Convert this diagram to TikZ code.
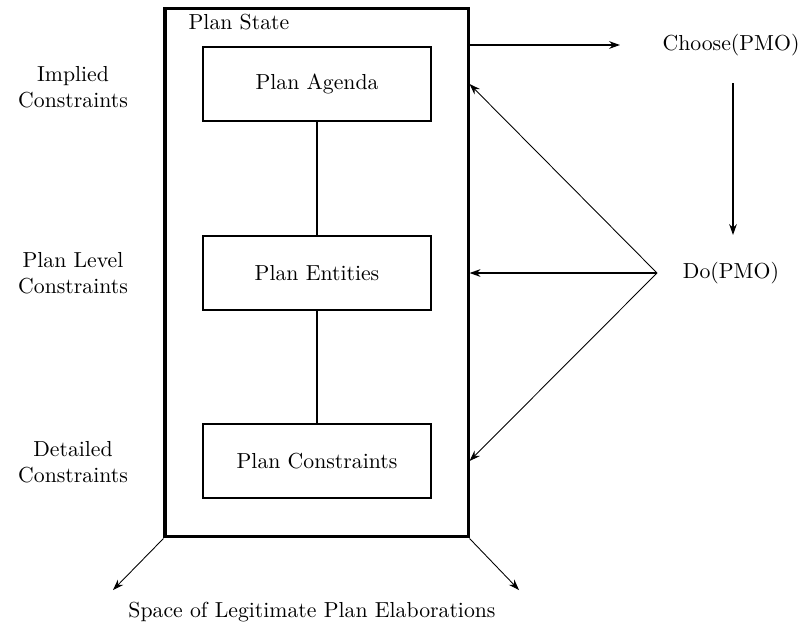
\documentclass[tikz,border=0pt]{standalone}
\usepackage{amsmath}
\usetikzlibrary{arrows.meta}
\usetikzlibrary{positioning}
\begin{document}
\begin{tikzpicture}[x=0.46pt, y=-0.46pt,
  part/.style={draw, line width=0.9pt, minimum width=105pt, minimum height=34pt, inner sep=0pt},
  sidetext/.style={align=center},
  fanline/.style={line width=0.4pt, -{Stealth[length=5pt, width=3.5pt]}},
  mainline/.style={line width=0.8pt, -{Stealth[length=5pt, width=3.5pt]}}]
\useasboundingbox (0,0) rectangle (804,626);
% plan state and its parts
\node[draw, line width=1.4pt, minimum width=139.4pt, minimum height=243.3pt, inner sep=0pt] (state) at (316.5,272.5) {};
\node[anchor=west] (statename) at (181,22) {Plan State};
\node[part] (agenda) at (317,84) {Plan Agenda};
\node[part] (entities) at (317,273) {Plan Entities};
\node[part] (pcons) at (317,461) {Plan Constraints};
\draw[line width=0.8pt] (agenda) -- (entities);
\draw[line width=0.8pt] (entities) -- (pcons);
% constraint levels
\node[sidetext] (implied) at (73,87) {Implied\\Constraints};
\node[sidetext] (levelc) at (73,273) {Plan Level\\Constraints};
\node[sidetext] (detailed) at (73,462) {Detailed\\Constraints};
% operators
\node (choose) at (731,45) {Choose(PMO)};
\node (do) at (731,273) {Do(PMO)};
\coordinate (chooseend) at (620,45);
\coordinate (downtop) at (733,83);
\coordinate (downend) at (733,235);
\coordinate (fan) at (657,273);
\draw[mainline] (state.east |- choose) -- (chooseend);
\draw[mainline] (downtop) -- (downend);
\draw[fanline] (fan) -- (state.east |- agenda);
\draw[line width=1.3pt, -{Stealth[length=5pt, width=3.5pt]}] (fan) -- (state.east |- entities);
\draw[fanline] (fan) -- (state.east |- pcons);
% elaborations
\coordinate (leftend) at (113,590);
\coordinate (rightend) at (519,590);
\draw[fanline] (state.south west) -- (leftend);
\draw[fanline] (state.south east) -- (rightend);
\node (space) at (312,612) {Space of Legitimate Plan Elaborations};
\end{tikzpicture}
\end{document}
